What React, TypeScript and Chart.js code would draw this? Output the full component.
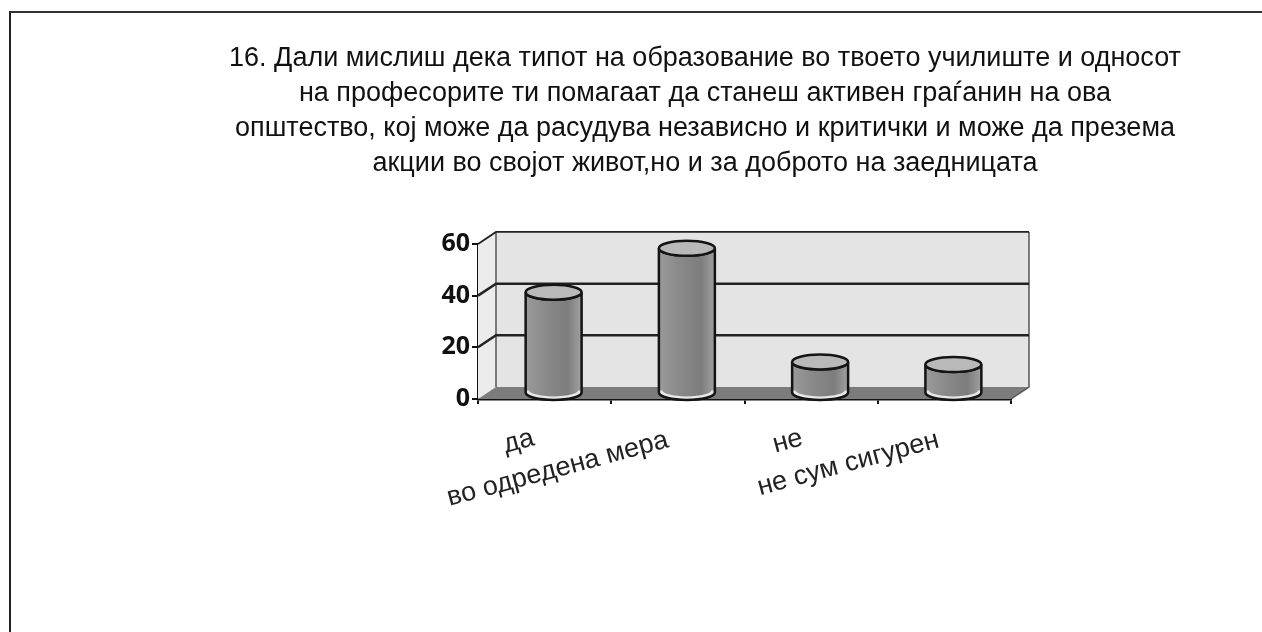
import React, { useEffect, useRef } from "react";
import { Chart, registerables } from "chart.js";

Chart.register(...registerables);

const categories = ["да", "во одредена мера", "не", "не сум сигурен"];
const values = [39, 56, 12, 11];
const yTicks = [0, 20, 40, 60];
const titleLines = [
  "16. Дали мислиш дека типот на образование во твоето училиште и односот",
  "на професорите ти помагаат да станеш активен граѓанин на ова",
  "општество, кој може да расудува независно и критички и може да презема",
  "акции во својот живот,но и за доброто на заедницата",
];

const DEPTH_X = 18;
const DEPTH_Y = -12;
const LABEL_SHIFT_X = [-11, -10, -9, -6];
const LABEL_SHIFT_Y = [6, 8, 6, 8];

const cylinderPlugin = {
  id: "cylinder3d",
  beforeDatasetsDraw(chart: any) {
    const { ctx, chartArea: a, scales } = chart;
    const y = scales.y;
    const y0 = y.getPixelForValue(0);
    const yTop = y.getPixelForValue(60);
    ctx.save();
    ctx.fillStyle = "#e4e4e4";
    ctx.fillRect(a.left + DEPTH_X, yTop + DEPTH_Y, a.width, y0 - yTop);
    ctx.fillStyle = "#ececec";
    ctx.beginPath();
    ctx.moveTo(a.left, y0);
    ctx.lineTo(a.left + DEPTH_X, y0 + DEPTH_Y);
    ctx.lineTo(a.left + DEPTH_X, yTop + DEPTH_Y);
    ctx.lineTo(a.left, yTop);
    ctx.closePath();
    ctx.fill();
    ctx.fillStyle = "#7c7c7c";
    ctx.beginPath();
    ctx.moveTo(a.left, y0);
    ctx.lineTo(a.left + DEPTH_X, y0 + DEPTH_Y);
    ctx.lineTo(a.right + DEPTH_X, y0 + DEPTH_Y);
    ctx.lineTo(a.right, y0);
    ctx.closePath();
    ctx.fill();
    ctx.strokeStyle = "#555";
    ctx.lineWidth = 1.5;
    ctx.beginPath();
    ctx.moveTo(a.left + DEPTH_X, y0 + DEPTH_Y);
    ctx.lineTo(a.left + DEPTH_X, yTop + DEPTH_Y);
    ctx.moveTo(a.right + DEPTH_X, yTop + DEPTH_Y);
    ctx.lineTo(a.right + DEPTH_X, y0 + DEPTH_Y);
    ctx.lineTo(a.right, y0);
    ctx.stroke();
    ctx.strokeStyle = "#222";
    for (const t of yTicks) {
      if (t === 0) continue;
      const py = y.getPixelForValue(t);
      ctx.lineWidth = t === 60 ? 1.8 : 2.5;
      ctx.beginPath();
      ctx.moveTo(a.left, py);
      ctx.lineTo(a.left + DEPTH_X, py + DEPTH_Y);
      ctx.lineTo(a.right + DEPTH_X, py + DEPTH_Y);
      ctx.stroke();
    }
    ctx.restore();
  },
  beforeDatasetDraw(chart: any, args: any) {
    const { ctx } = chart;
    const meta = chart.getDatasetMeta(args.index);
    const y0 = chart.scales.y.getPixelForValue(0);
    ctx.save();
    for (const bar of meta.data) {
      const cx = bar.x + DEPTH_X / 2;
      const hw = bar.width / 2;
      const ry = 7.5;
      const topY = bar.y + DEPTH_Y / 2;
      const baseY = y0 + DEPTH_Y / 2 - 0.5;
      const grad = ctx.createLinearGradient(cx - hw, 0, cx + hw, 0);
      grad.addColorStop(0, "#9a9a9a");
      grad.addColorStop(0.35, "#8a8a8a");
      grad.addColorStop(0.75, "#7d7d7d");
      grad.addColorStop(1, "#a0a0a0");
      const body = () => {
        ctx.beginPath();
        ctx.moveTo(cx - hw, topY);
        ctx.lineTo(cx - hw, baseY);
        ctx.ellipse(cx, baseY, hw, ry, 0, Math.PI, 0, true);
        ctx.lineTo(cx + hw, topY);
        ctx.ellipse(cx, topY, hw, ry, 0, 0, Math.PI, false);
        ctx.closePath();
      };
      body();
      ctx.fillStyle = grad;
      ctx.fill();
      ctx.strokeStyle = "#e8e8e8";
      ctx.lineWidth = 3;
      ctx.beginPath();
      ctx.ellipse(cx, baseY - 2, hw - 2, ry, 0, Math.PI, 0, true);
      ctx.stroke();
      body();
      ctx.strokeStyle = "#141414";
      ctx.lineWidth = 2.5;
      ctx.stroke();
      ctx.beginPath();
      ctx.ellipse(cx, topY, hw, ry, 0, 0, Math.PI * 2);
      ctx.fillStyle = "#b9b9b9";
      ctx.fill();
      ctx.stroke();
    }
    ctx.restore();
    return false;
  },
};

export default function App() {
  const ref = useRef<HTMLCanvasElement>(null);
  useEffect(() => {
    document.body.style.margin = "0";
    const chart = new Chart(ref.current!, {
      type: "bar",
      data: {
        labels: categories,
        datasets: [
          {
            label: "Ряд1",
            data: values,
            backgroundColor: "#8a8a8a",
            borderColor: "#141414",
            categoryPercentage: 1,
            barPercentage: 0.42,
          },
        ],
      },
      plugins: [cylinderPlugin],
      options: {
        animation: false,
        responsive: false,
        layout: { padding: { left: 222, right: 74, top: 0, bottom: 93 } },
        plugins: {
          legend: { display: false },
          tooltip: { enabled: false },
          title: {
            display: true,
            text: titleLines,
            color: "#111",
            font: { family: "'Liberation Sans', Arial, sans-serif", size: 27, weight: "normal", lineHeight: 1.296 },
            padding: { top: 41, bottom: 63 },
          },
        },
        scales: {
          x: {
            offset: true,
            afterFit: (s: any) => {
              s.height = 140;
              const proto = Object.getPrototypeOf(s);
              let done: any = null;
              s.getLabelItems = function (area: any) {
                const items = proto.getLabelItems.call(this, area);
                if (items !== done) {
                  items.forEach((it: any, i: number) => {
                    const t = it.options.translation;
                    it.options.translation = [t[0] + LABEL_SHIFT_X[i], t[1] + LABEL_SHIFT_Y[i]];
                  });
                  done = items;
                }
                return items;
              };
            },
            border: { color: "#111", width: 2.5 },
            grid: { drawOnChartArea: false, offset: true, color: "#111", tickLength: 5, lineWidth: 2 },
            ticks: {
              autoSkip: false,
              minRotation: 15,
              maxRotation: 15,
              padding: 12,
              color: "#222",
              font: { family: "'Liberation Sans', Arial, sans-serif", size: 27 },
            },
          },
          y: {
            min: 0,
            max: 60,
            afterFit: (s: any) => {
              s.width = 256;
            },
            afterBuildTicks: (s: any) => {
              s.ticks = yTicks.map((value) => ({ value }));
            },
            border: { color: "#111", width: 2.5 },
            grid: { drawOnChartArea: false, color: "#111", tickLength: 6, lineWidth: 2 },
            ticks: {
              padding: 2,
              color: "#111",
              font: { family: "'Open Sans', 'Liberation Sans', sans-serif", size: 25, weight: "bold" },
            },
          },
          spacer: {
            position: "right",
            display: true,
            afterFit: (s: any) => {
              s.width = 177;
            },
            border: { display: false },
            grid: { display: false },
            ticks: { display: false },
          },
        },
      },
    } as any);
    return () => chart.destroy();
  }, []);
  return (
    <div style={{ position: "relative", width: 1262, height: 632, background: "#fff", overflow: "hidden" }}>
      <div
        style={{
          position: "absolute",
          left: 9,
          top: 11,
          width: 1253,
          height: 621,
          boxSizing: "border-box",
          borderLeft: "2px solid #222",
          borderTop: "2px solid #333",
        }}
      />
      <canvas ref={ref} width={1262} height={632} style={{ position: "absolute", left: 0, top: 0 }} />
    </div>
  );
}
